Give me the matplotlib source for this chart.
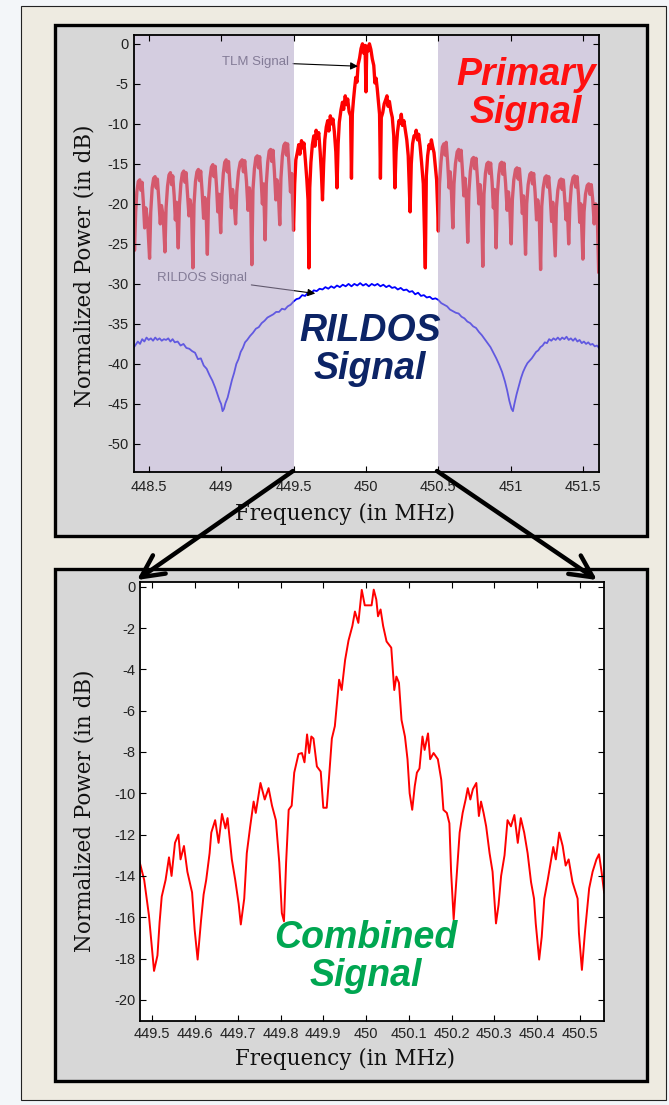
import matplotlib
matplotlib.use("Agg")
import matplotlib.pyplot as plt
from matplotlib.patches import Rectangle, FancyArrowPatch

W, H = 669, 1105

# ---- top chart: TLM signal (red) and RILDOS signal (blue), dB vs MHz ----
tlm_freq = [
    448.395, 448.402, 448.410, 448.418, 448.428, 448.438, 448.446, 448.454, 448.463, 448.472, 448.480, 448.492,
    448.506, 448.514, 448.524, 448.534, 448.544, 448.552, 448.560, 448.570, 448.580, 448.588, 448.600,
    448.612, 448.620, 448.630, 448.640, 448.650, 448.658, 448.666, 448.676, 448.684, 448.692,
    448.704, 448.712, 448.722, 448.732, 448.742, 448.750, 448.758, 448.768, 448.778, 448.786, 448.796,
    448.805, 448.813, 448.823, 448.833, 448.843, 448.851, 448.859, 448.869, 448.879, 448.887, 448.896,
    448.905, 448.913, 448.923, 448.933, 448.943, 448.951, 448.959, 448.969, 448.977, 448.985,
    448.997, 449.005, 449.015, 449.025, 449.035, 449.043, 449.051, 449.061, 449.071, 449.079, 449.088,
    449.100, 449.108, 449.120, 449.132, 449.145, 449.154, 449.163, 449.175, 449.186, 449.195, 449.204,
    449.212, 449.220, 449.230, 449.240, 449.250, 449.258, 449.266, 449.276, 449.285, 449.293,
    449.304, 449.312, 449.322, 449.332, 449.342, 449.350, 449.358, 449.368, 449.378, 449.386, 449.395,
    449.405, 449.413, 449.423, 449.433, 449.443, 449.451, 449.459, 449.469, 449.479, 449.487,
    449.500, 449.508, 449.516, 449.526, 449.536, 449.544, 449.555, 449.564, 449.572, 449.582, 449.592, 449.600,
    449.606, 449.612, 449.620, 449.630, 449.640, 449.648, 449.656, 449.666, 449.674, 449.684, 449.692,
    449.700, 449.708, 449.716, 449.726, 449.736, 449.744, 449.754, 449.764, 449.772, 449.782, 449.792,
    449.800, 449.808, 449.816, 449.828, 449.838, 449.846, 449.857, 449.866, 449.874, 449.884, 449.894,
    449.900, 449.906, 449.914, 449.922, 449.930, 449.938, 449.946, 449.956, 449.966, 449.976, 449.986, 449.994,
    450.000, 450.006, 450.014, 450.024, 450.034, 450.044, 450.054, 450.062, 450.070, 450.078, 450.086, 450.094,
    450.100, 450.106, 450.116, 450.126, 450.136, 450.145, 450.152, 450.162, 450.172, 450.182, 450.192,
    450.200, 450.208, 450.218, 450.228, 450.236, 450.244, 450.252, 450.262, 450.272, 450.282, 450.292,
    450.305, 450.313, 450.322, 450.332, 450.340, 450.347, 450.356, 450.364, 450.374, 450.384, 450.396,
    450.410, 450.417, 450.426, 450.436, 450.444, 450.452, 450.460, 450.470, 450.480, 450.488,
    450.495, 450.500, 450.508, 450.518, 450.528, 450.538, 450.546, 450.554, 450.564, 450.574, 450.582, 450.591,
    450.600, 450.608, 450.618, 450.630, 450.640, 450.648, 450.657, 450.666, 450.676, 450.684, 450.693,
    450.703, 450.711, 450.721, 450.733, 450.743, 450.751, 450.760, 450.770, 450.780, 450.788, 450.797,
    450.807, 450.815, 450.825, 450.835, 450.845, 450.853, 450.861, 450.871, 450.880, 450.888,
    450.899, 450.907, 450.917, 450.927, 450.937, 450.945, 450.953, 450.964, 450.975, 450.984, 450.993,
    451.003, 451.011, 451.021, 451.033, 451.043, 451.051, 451.060, 451.070, 451.080, 451.088,
    451.102, 451.110, 451.120, 451.132, 451.142, 451.150, 451.158, 451.168, 451.178, 451.186, 451.196,
    451.206, 451.214, 451.224, 451.236, 451.246, 451.254, 451.262, 451.272, 451.282, 451.290,
    451.307, 451.315, 451.325, 451.337, 451.347, 451.355, 451.363, 451.373, 451.382, 451.390,
    451.400, 451.408, 451.418, 451.430, 451.440, 451.448, 451.458, 451.468, 451.476, 451.484,
    451.498, 451.506, 451.516, 451.528, 451.538, 451.546, 451.556, 451.566, 451.576, 451.586, 451.596,
    451.607,
]
tlm_power = [
    -20.0, -25.8, -21.0, -18.5, -17.2, -17.0, -18.3, -17.3, -19.8, -23.0, -20.5, -22.0,
    -26.8, -21.0, -18.0, -16.8, -16.6, -18.0, -16.9, -19.5, -22.5, -20.2, -21.5,
    -26.0, -20.5, -17.8, -16.4, -16.1, -17.6, -16.5, -19.0, -22.0, -19.8,
    -25.5, -20.2, -17.5, -16.2, -15.9, -17.3, -16.1, -18.8, -21.5, -19.5, -21.0,
    -28.0, -20.0, -17.2, -16.0, -15.7, -17.1, -15.9, -18.5, -21.8, -19.2, -20.8,
    -26.3, -19.5, -16.8, -15.4, -15.1, -16.6, -15.3, -18.0, -21.0, -18.8,
    -23.6, -19.0, -16.2, -14.8, -14.5, -16.0, -14.7, -17.5, -20.5, -18.2, -19.5,
    -22.5, -18.5, -16.0, -14.8, -14.5, -16.0, -14.6, -17.2, -20.8, -18.0, -19.8,
    -27.6, -18.2, -15.6, -14.2, -14.0, -15.5, -14.1, -16.8, -20.0, -17.5,
    -24.5, -17.5, -14.8, -13.4, -13.2, -14.7, -13.3, -16.0, -19.5, -17.0, -18.5,
    -22.6, -16.8, -14.0, -12.7, -12.4, -13.9, -12.5, -15.2, -18.5, -16.2,
    -23.3, -17.5, -14.5, -13.6, -12.6, -13.8, -12.1, -13.0, -12.4, -14.6, -17.0, -19.5,
    -28.0, -18.0, -14.8, -12.6, -11.5, -12.8, -10.8, -11.8, -11.1, -13.5, -16.0,
    -19.5, -15.0, -12.0, -10.4, -9.6, -10.9, -9.0, -10.0, -9.4, -11.0, -13.5,
    -18.0, -12.5, -9.8, -8.2, -7.3, -8.2, -6.5, -7.6, -6.9, -8.5, -9.0,
    -16.8, -8.8, -7.0, -5.5, -4.2, -4.8, -2.6, -1.8, -0.6, 0.0, -1.2, -0.2,
    -6.0, -0.3, -0.9, 0.0, -0.7, -1.9, -2.7, -4.9, -4.3, -5.6, -7.2, -8.8,
    -16.8, -9.2, -8.6, -7.5, -7.0, -6.5, -7.8, -7.2, -8.4, -9.2, -11.5,
    -18.0, -13.5, -11.0, -9.6, -9.9, -8.8, -10.2, -9.6, -10.8, -12.0, -14.0,
    -21.0, -15.0, -12.5, -11.5, -11.6, -10.8, -12.0, -11.3, -12.8, -14.8, -17.5,
    -28.0, -16.5, -14.0, -12.6, -13.1, -12.0, -12.8, -13.6, -15.5, -17.0,
    -20.5, -23.4, -17.5, -14.8, -12.9, -12.5, -13.9, -12.3, -14.8, -18.0, -16.0, -18.8,
    -23.0, -17.5, -15.0, -13.5, -13.2, -14.6, -13.3, -15.7, -19.0, -16.8, -19.2,
    -24.8, -18.5, -15.9, -14.4, -14.2, -15.6, -14.3, -16.8, -20.0, -17.6, -19.8,
    -27.8, -18.8, -16.2, -15.0, -14.8, -16.2, -14.9, -17.3, -20.5, -18.2,
    -25.5, -19.0, -16.4, -15.0, -14.8, -16.3, -14.9, -17.4, -20.8, -18.5, -20.3,
    -25.0, -19.5, -17.0, -15.7, -15.5, -16.9, -15.6, -18.0, -21.2, -19.0,
    -26.3, -20.0, -17.6, -16.3, -16.1, -17.5, -16.2, -18.6, -22.0, -19.5, -21.0,
    -28.2, -20.3, -18.0, -16.7, -16.5, -17.9, -16.6, -19.0, -22.2, -19.8,
    -26.5, -20.5, -18.3, -17.1, -16.9, -18.2, -17.0, -19.5, -22.0, -20.0,
    -25.0, -20.3, -17.8, -16.7, -16.5, -17.9, -16.6, -19.0, -22.3, -20.0,
    -26.9, -21.0, -18.8, -17.7, -17.5, -18.8, -17.6, -19.5, -22.5, -20.0, -20.5,
    -28.5,
]

rildos_freq = [
    448.395, 448.410, 448.425, 448.440, 448.455, 448.470, 448.485, 448.500, 448.515, 448.530,
    448.545, 448.560, 448.575, 448.590, 448.605, 448.620, 448.635, 448.650, 448.665, 448.680,
    448.700, 448.720, 448.740, 448.760, 448.780, 448.800, 448.820, 448.840, 448.860, 448.880,
    448.900, 448.920, 448.940, 448.960, 448.975, 448.990, 449.000, 449.010, 449.020, 449.030,
    449.045, 449.060, 449.075, 449.090, 449.105, 449.120, 449.135, 449.150, 449.165, 449.180,
    449.200, 449.220, 449.240, 449.260, 449.280, 449.300, 449.320, 449.340, 449.360, 449.380,
    449.400, 449.420, 449.440, 449.460, 449.480, 449.500, 449.520, 449.540, 449.560, 449.580,
    449.600, 449.620, 449.640, 449.660, 449.680, 449.700, 449.720, 449.740, 449.760, 449.780,
    449.800, 449.820, 449.840, 449.860, 449.880, 449.900, 449.920, 449.940, 449.960, 449.980,
    450.000, 450.020, 450.040, 450.060, 450.080, 450.100, 450.120, 450.140, 450.160, 450.180,
    450.200, 450.220, 450.240, 450.260, 450.280, 450.300, 450.320, 450.340, 450.360, 450.380,
    450.400, 450.420, 450.440, 450.460, 450.480, 450.500, 450.520, 450.540, 450.560, 450.580,
    450.600, 450.620, 450.640, 450.660, 450.680, 450.700, 450.720, 450.740, 450.760, 450.780,
    450.800, 450.820, 450.840, 450.860, 450.880, 450.900, 450.920, 450.940, 450.960, 450.975,
    450.990, 451.005, 451.015, 451.025, 451.040, 451.055, 451.070, 451.085, 451.100, 451.115,
    451.130, 451.145, 451.160, 451.175, 451.190, 451.205, 451.220, 451.235, 451.250, 451.265,
    451.280, 451.295, 451.310, 451.325, 451.340, 451.355, 451.370, 451.385, 451.400, 451.415,
    451.430, 451.445, 451.460, 451.475, 451.490, 451.505, 451.520, 451.535, 451.550, 451.565,
    451.580, 451.595, 451.610,
]
rildos_power = [
    -38.0, -37.6, -37.2, -37.5, -36.9, -37.2, -36.7, -37.0, -36.8, -37.1,
    -36.7, -37.0, -36.8, -37.1, -36.9, -37.0, -36.8, -37.2, -36.9, -37.3,
    -37.2, -37.7, -37.5, -38.0, -38.1, -38.4, -38.6, -39.4, -39.3, -40.2,
    -40.6, -41.4, -42.1, -43.0, -43.8, -44.6, -45.0, -45.9, -45.6, -44.9,
    -44.2, -43.1, -42.0, -41.1, -40.0, -39.4, -38.5, -38.0, -37.3, -37.0,
    -36.5, -36.1, -35.6, -35.4, -34.9, -34.6, -34.2, -34.0, -33.8, -33.5,
    -33.5, -33.1, -33.2, -32.8, -32.6, -32.2, -31.9, -31.8, -31.4, -31.5,
    -31.1, -31.2, -30.8, -30.9, -30.6, -30.7, -30.4, -30.6, -30.3, -30.5,
    -30.2, -30.4, -30.1, -30.3, -30.0, -30.3, -30.0, -30.2, -29.9, -30.2,
    -30.0, -30.3, -30.0, -30.2, -30.0, -30.3, -30.1, -30.4, -30.2, -30.5,
    -30.4, -30.7, -30.5, -30.8, -30.7, -31.0, -30.9, -31.3, -31.1, -31.5,
    -31.4, -31.7, -31.6, -31.9, -31.8, -32.0, -32.4, -32.6, -32.8, -33.2,
    -33.4, -33.6, -33.7, -34.1, -34.3, -34.7, -34.9, -35.3, -35.5, -36.0,
    -36.4, -36.9, -37.4, -37.9, -38.6, -39.3, -40.1, -41.0, -42.2, -43.3,
    -44.6, -45.6, -45.9, -45.0, -43.8, -42.8, -41.8, -41.0, -40.4, -39.9,
    -39.6, -39.3, -38.9, -38.5, -38.3, -37.9, -37.7, -37.3, -37.4, -36.9,
    -37.1, -36.8, -37.0, -36.7, -37.0, -36.7, -36.9, -36.6, -37.0, -36.8,
    -37.1, -36.8, -37.2, -37.0, -37.4, -37.2, -37.5, -37.3, -37.6, -37.5,
    -37.8, -37.7, -38.0,
]

top_xticks = [448.5, 449.0, 449.5, 450.0, 450.5, 451.0, 451.5]
top_xlabels = ["448.5", "449", "449.5", "450", "450.5", "451", "451.5"]
top_yticks = [0, -5, -10, -15, -20, -25, -30, -35, -40, -45, -50]

# ---- bottom chart: combined signal, 449.5 - 450.5 MHz ----
comb_freq = [
    449.470, 449.481, 449.492, 449.504, 449.512, 449.517, 449.522, 449.531, 449.539, 449.545,
    449.553, 449.561, 449.566, 449.574, 449.582, 449.593, 449.599, 449.606, 449.614, 449.620,
    449.626, 449.634, 449.638, 449.647, 449.655, 449.663, 449.671, 449.676, 449.686, 449.694,
    449.702, 449.707, 449.715, 449.721, 449.729, 449.737, 449.742, 449.753, 449.763, 449.772,
    449.780, 449.789, 449.797, 449.803, 449.808, 449.813, 449.819, 449.826, 449.832, 449.842,
    449.850, 449.856, 449.862, 449.867, 449.872, 449.877, 449.885, 449.894, 449.900, 449.908,
    449.913, 449.920, 449.927, 449.931, 449.937, 449.943, 449.951, 449.959, 449.968, 449.974,
    449.982, 449.990, 449.997, 450.013, 450.018, 450.024, 450.028, 450.034, 450.040, 450.048,
    450.059, 450.066, 450.071, 450.077, 450.083, 450.091, 450.097, 450.102, 450.108, 450.114,
    450.119, 450.125, 450.132, 450.137, 450.145, 450.150, 450.158, 450.168, 450.176, 450.181,
    450.189, 450.195, 450.199, 450.205, 450.211, 450.219, 450.226, 450.233, 450.238, 450.244,
    450.250, 450.258, 450.264, 450.269, 450.275, 450.281, 450.289, 450.296, 450.304, 450.310,
    450.316, 450.324, 450.331, 450.339, 450.347, 450.355, 450.362, 450.370, 450.378, 450.386,
    450.393, 450.397, 450.405, 450.411, 450.417, 450.425, 450.432, 450.438, 450.444, 450.452,
    450.460, 450.467, 450.474, 450.483, 450.495, 450.498, 450.505, 450.512, 450.522, 450.530,
    450.539, 450.545, 450.551, 450.557,
]
comb_power = [
    -13.3, -14.2, -15.9, -18.6, -17.85, -16.25, -15.0, -14.2, -13.1, -14.0,
    -12.4, -12.0, -13.2, -12.55, -13.8, -14.8, -16.6, -18.05, -16.15, -14.9,
    -14.2, -12.9, -11.9, -11.3, -12.4, -11.0, -11.7, -11.2, -13.2, -14.2,
    -15.35, -16.35, -15.1, -12.9, -11.6, -10.4, -10.95, -9.5, -10.3, -9.75,
    -10.6, -11.3, -13.35, -15.8, -16.2, -13.35, -10.8, -10.6, -9.0, -8.1,
    -8.05, -8.5, -7.15, -8.05, -7.25, -7.35, -8.7, -8.95, -10.7, -10.7,
    -9.35, -7.35, -6.75, -5.85, -4.5, -5.0, -3.55, -2.6, -1.9, -1.2,
    -1.75, -0.15, -0.9, -0.9, -0.14, -0.62, -1.43, -1.1, -1.9, -2.65,
    -2.95, -5.0, -4.35, -4.65, -6.45, -7.25, -8.35, -10.0, -10.8, -9.65,
    -9.0, -8.8, -7.25, -7.9, -7.1, -8.35, -8.05, -8.35, -9.35, -10.8,
    -10.95, -11.45, -13.8, -16.1, -14.3, -11.9, -10.95, -10.3, -9.75, -10.3,
    -9.8, -9.5, -11.1, -10.4, -10.95, -11.6, -12.9, -13.8, -16.3, -15.4,
    -14.0, -13.0, -11.3, -11.6, -11.05, -12.4, -11.2, -11.9, -12.9, -14.3,
    -15.1, -16.3, -18.05, -16.95, -15.1, -14.2, -13.35, -12.6, -13.2, -11.9,
    -12.55, -13.5, -13.2, -14.3, -15.1, -16.75, -18.55, -16.75, -14.6, -13.8,
    -13.2, -12.95, -13.8, -14.8,
]

bot_xticks = [449.5, 449.6, 449.7, 449.8, 449.9, 450.0, 450.1, 450.2, 450.3, 450.4, 450.5]
bot_xlabels = ["449.5", "449.6", "449.7", "449.8", "449.9", "450",
               "450.1", "450.2", "450.3", "450.4", "450.5"]
bot_yticks = [0, -2, -4, -6, -8, -10, -12, -14, -16, -18, -20]

TICK_FONT = ["Liberation Sans Narrow", "Liberation Sans", "DejaVu Sans"]
LABEL_FONT = ["DejaVu Serif"]
SHADE = (178 / 255, 164 / 255, 200 / 255)


def fx(x):
    return x / W


def fy(y):
    return 1 - y / H


def box(x0, y0, x1, y1, **kw):
    return Rectangle((fx(x0), fy(y1)), (x1 - x0) / W, (y1 - y0) / H,
                     transform=fig.transFigure, **kw)


def style_axes(ax, xticks, xlabels, yticks, xpad, ypad):
    ax.set_xticks(xticks)
    ax.set_xticklabels(xlabels)
    ax.set_yticks(yticks)
    ax.set_yticklabels([str(v) for v in yticks])
    ax.tick_params(direction="in", length=4, width=0.8, top=True, right=True,
                   labelsize=10.5, labelcolor="#222222", labelfontfamily=TICK_FONT)
    ax.tick_params(axis="x", pad=xpad)
    ax.tick_params(axis="y", pad=ypad)
    for sp in ax.spines.values():
        sp.set_linewidth(1.3)
        sp.set_color("black")
        sp.set_zorder(6)
    ax.xaxis.set_zorder(6)
    ax.yaxis.set_zorder(6)


fig = plt.figure(figsize=(W / 100, H / 100), dpi=100)
fig.patch.set_facecolor("#f3f6f9")

# framed panels behind the charts
fig.add_artist(box(20.5, 5.5, 666, 1100, facecolor="#eeebe1", edgecolor="#222222", lw=0.8, zorder=-3))
fig.add_artist(box(55, 25, 646.5, 535.5, facecolor="#d7d7d7", edgecolor="black", lw=2.4, zorder=-2))
fig.add_artist(box(55, 568.5, 646.5, 1080.5, facecolor="#d7d7d7", edgecolor="black", lw=2.4, zorder=-2))

# top chart
ax1 = fig.add_axes([fx(133.5), fy(472), (599.4 - 133.5) / W, (472 - 35) / H])
ax1.plot(tlm_freq, tlm_power, color="red", lw=2.4, zorder=2)
ax1.plot(rildos_freq, rildos_power, color="blue", lw=1.3, zorder=2)
ax1.set_xlim(448.395, 451.612)
ax1.set_ylim(-53.5, 1.1)
ax1.axvspan(448.395, 449.5, color=SHADE, alpha=0.55, lw=0, zorder=4)
ax1.axvspan(450.5, 451.6, color=SHADE, alpha=0.55, lw=0, zorder=4)
style_axes(ax1, top_xticks, top_xlabels, top_yticks, 5.5, 3.5)

arrow_small = dict(arrowstyle="-|>", color="black", lw=0.8, mutation_scale=11,
                   shrinkA=1, shrinkB=0)
ax1.annotate("TLM Signal", xy=(449.945, -2.8), xytext=(449.236, -2.3),
             ha="center", va="center", fontsize=9.5, color="#4a4a5a",
             family=TICK_FONT, arrowprops=arrow_small, zorder=3)
ax1.annotate("RILDOS Signal", xy=(449.650, -31.2), xytext=(448.869, -29.3),
             ha="center", va="center", fontsize=9.5, color="#4a4a5a",
             family=TICK_FONT, arrowprops=arrow_small, zorder=3)

# bottom chart
ax2 = fig.add_axes([fx(139.5), fy(1020.5), (603.7 - 139.5) / W, (1020.5 - 582) / H])
ax2.plot(comb_freq, comb_power, color="red", lw=1.4)
ax2.set_xlim(449.470, 450.556)
ax2.set_ylim(-21.0, 0.23)
style_axes(ax2, bot_xticks, bot_xlabels, bot_yticks, 5.0, 3.0)

# axis titles
for yc, xc in ((266, 85), (811, 85)):
    fig.text(fx(xc), fy(yc), "Normalized Power (in dB)", rotation=90, ha="center",
             va="center", fontsize=15.5, family=LABEL_FONT, color="#111111")
for yc in (514, 1059):
    fig.text(fx(345), fy(yc), "Frequency (in MHz)", ha="center", va="center",
             fontsize=15.5, family=LABEL_FONT, color="#111111")

# callout labels
big = dict(ha="center", va="center", fontsize=27, fontweight="bold", fontstyle="italic",
           family=["Liberation Sans", "DejaVu Sans"], linespacing=1.05, zorder=10)
fig.text(fx(526), fy(94), "Primary\nSignal", color="#ff1010", **big)
fig.text(fx(370), fy(350), "RILDOS\nSignal", color="#0c2466", **big)
fig.text(fx(366), fy(957), "Combined\nSignal", color="#00a651", **big)

# zoom arrows from the white band down to the bottom chart
head = "->,head_length=1.6,head_width=0.8"
for (x0, y0), (x1, y1) in (((293, 471), (137, 580)), ((437, 471), (597, 580))):
    fig.add_artist(FancyArrowPatch((fx(x0), fy(y0)), (fx(x1), fy(y1)),
                                   transform=fig.transFigure, arrowstyle=head,
                                   mutation_scale=10, lw=3.2, color="black",
                                   shrinkA=0, shrinkB=0, zorder=12))

fig.savefig("out.png", dpi=100, facecolor=fig.get_facecolor())
